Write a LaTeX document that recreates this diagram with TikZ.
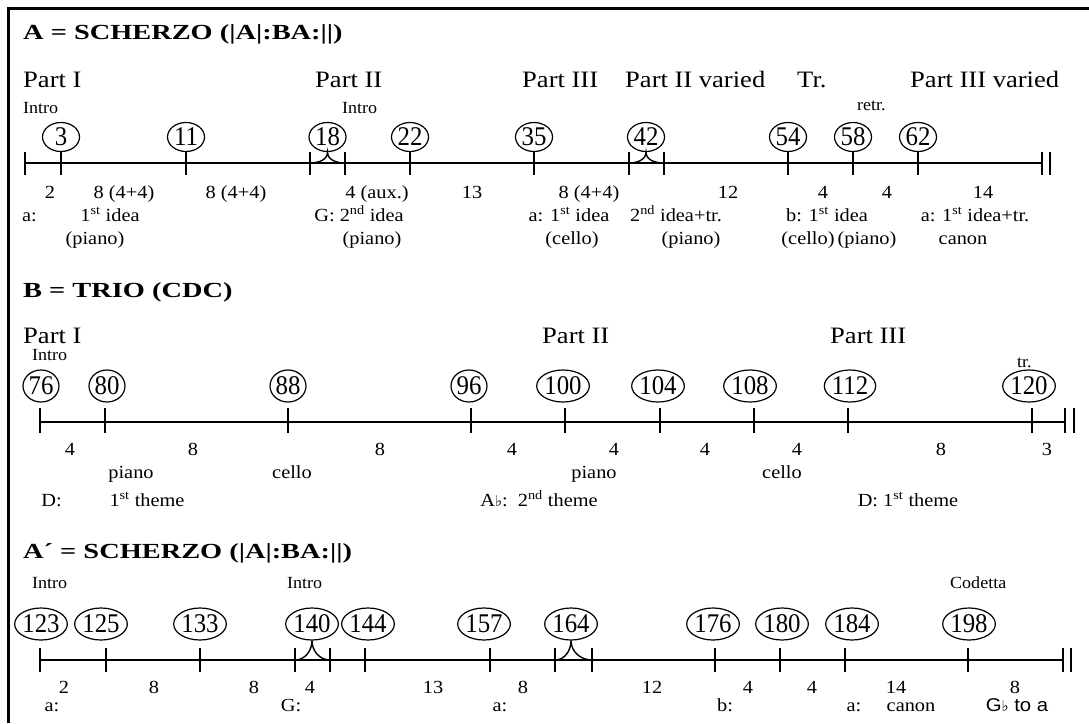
\documentclass[tikz,border=0pt]{standalone}
\usepackage{fontspec}
\setmainfont{Liberation Serif}[FakeStretch=1.1]
\newfontfamily\titlef{Liberation Serif}[FakeStretch=1.32]
\newfontfamily\partf{Liberation Serif}[FakeStretch=1.13]
\newfontfamily\circf{Liberation Serif}[FakeStretch=0.92]
\newfontfamily\smallf{Liberation Serif}[FakeStretch=1.06]
\newfontfamily\sansf{Liberation Sans}[FakeStretch=1.1]
\newfontfamily\symf{DejaVu Sans}
\usetikzlibrary{shapes.geometric}
\newcommand\fTitle{\titlef\fontsize{21.5}{26}\selectfont\bfseries}
\newcommand\fPart{\partf\fontsize{23.5}{27}\selectfont}
\newcommand\fNum{\fontsize{18.5}{21}\selectfont}
\newcommand\fSmall{\smallf\fontsize{17}{20}\selectfont}
\newcommand\fCirc{\circf\fontsize{27}{30}\selectfont}
\newcommand\supx[1]{\textsuperscript{#1}}
\newcommand\flatsign{{\symf\fontsize{15}{15}\selectfont ♭}}
\begin{document}
\begin{tikzpicture}[x=1pt,y=-1pt,
  txt/.style={inner sep=0pt, anchor=base, font=\fNum},
  txtw/.style={inner sep=0pt, anchor=base west},
  ttl/.style={txtw, font=\fTitle},
  part/.style={txtw, font=\fPart},
  small/.style={txtw, font=\fSmall},
  mnum/.style={ellipse, draw, line width=1.2pt, inner xsep=0pt, inner ysep=0pt, font=\fCirc, minimum width=36pt, minimum height=32pt},
  mnumA/.style={mnum, minimum width=37pt, minimum height=29pt},
  tl/.style={line width=1.4pt},
  tk/.style={line width=1.8pt},
  frame/.style={line width=2.6pt}
]
\useasboundingbox (0,0) rectangle (1089,723);
\draw[frame] (8.7,723) -- (8.7,8.7) -- (1089,8.7);

% ================= A = SCHERZO =================
\node[ttl] (tA) at (23,39) {A = SCHERZO (|A|:BA:||)};
\node[part] (pA1) at (23,87) {Part I};
\node[part] (pA2) at (315,87) {Part II};
\node[part] (pA3) at (522,87) {Part III};
\node[part] (pA4) at (625,87) {Part II varied};
\node[part] (pA5) at (797,87) {Tr.};
\node[part] (pA6) at (910,87) {Part III varied};
\node[small] (sA1) at (23,113) {Intro};
\node[small] (sA2) at (342,113) {Intro};
\node[small] (sA3) at (857,110) {retr.};

\node[mnumA] (a3) at (61,137) {3};
\node[mnumA] (a11) at (186,137) {11};
\node[mnumA] (a18) at (327.5,137) {18};
\node[mnumA] (a22) at (410,137) {22};
\node[mnumA] (a35) at (534,137) {35};
\node[mnumA] (a42) at (646,137) {42};
\node[mnumA] (a54) at (788,137) {54};
\node[mnumA] (a58) at (853,137) {58};
\node[mnumA] (a62) at (918,137) {62};

\draw[tl] (25,163) -- (1042,163);
\foreach \x in {25,61,186,310,345,410,534,629,664,788,853,918,1042,1050}
  \draw[tk] (\x,152) -- (\x,175);
\coordinate (a18l) at (310,163);
\coordinate (a18r) at (345,163);
\coordinate (a42l) at (629,163);
\coordinate (a42r) at (664,163);
\draw[tl] (a18l) to[out=0,in=-90] (a18.south) to[out=-90,in=180] (a18r);
\draw[tl] (a42l) to[out=0,in=-90] (a42.south) to[out=-90,in=180] (a42r);

\node[txt] (nA1) at (50,198) {2};
\node[txt] (nA2) at (124,198) {8 (4+4)};
\node[txt] (nA3) at (236,198) {8 (4+4)};
\node[txt] (nA4) at (377,198) {4 (aux.)};
\node[txt] (nA5) at (472,198) {13};
\node[txt] (nA6) at (589,198) {8 (4+4)};
\node[txt] (nA7) at (728,198) {12};
\node[txt] (nA8) at (823,198) {4};
\node[txt] (nA9) at (887,198) {4};
\node[txt] (nA10) at (983,198) {14};

\node[txt] (kA1) at (29.5,221) {a:};
\node[txt] (kA2) at (110,221) {1\supx{st} idea};
\node[txt] (kA3) at (359,221) {G: 2\supx{nd} idea};
\node[txt] (kA4) at (569,221) {a: 1\supx{st} idea};
\node[txt] (kA5) at (676,221) {2\supx{nd} idea+tr.};
\node[txt] (kA6) at (827,221) {b: 1\supx{st} idea};
\node[txt] (kA7) at (975,221) {a: 1\supx{st} idea+tr.};

\node[txt] (iA1) at (95,244) {(piano)};
\node[txt] (iA2) at (372,244) {(piano)};
\node[txt] (iA3) at (572,244) {(cello)};
\node[txt] (iA4) at (691,244) {(piano)};
\node[txt] (iA5) at (808,244) {(cello)};
\node[txt] (iA6) at (867,244) {(piano)};
\node[txt] (iA7) at (963,244) {canon};

% ================= B = TRIO =================
\node[ttl] (tB) at (23,297) {B = TRIO (CDC)};
\node[part] (pB1) at (23,343) {Part I};
\node[part] (pB2) at (542,343) {Part II};
\node[part] (pB3) at (830,343) {Part III};
\node[small] (sB1) at (32,360) {Intro};
\node[small] (sB2) at (1017,367) {tr.};

\node[mnum] (b76) at (41,386) {76};
\node[mnum] (b80) at (107,386) {80};
\node[mnum] (b88) at (288,386) {88};
\node[mnum] (b96) at (469,386) {96};
\node[mnum] (b100) at (563,386) {100};
\node[mnum] (b104) at (658,386) {104};
\node[mnum] (b108) at (750,386) {108};
\node[mnum] (b112) at (850,386) {112};
\node[mnum] (b120) at (1029,386) {120};

\draw[tl] (40,422) -- (1065,422);
\foreach \x in {40,105,288,471,565,660,754,848,1032,1065,1074}
  \draw[tk] (\x,408) -- (\x,433);

\node[txt] (nB1) at (70,455) {4};
\node[txt] (nB2) at (193,455) {8};
\node[txt] (nB3) at (380,455) {8};
\node[txt] (nB4) at (512,455) {4};
\node[txt] (nB5) at (614,455) {4};
\node[txt] (nB6) at (705,455) {4};
\node[txt] (nB7) at (797,455) {4};
\node[txt] (nB8) at (941,455) {8};
\node[txt] (nB9) at (1047,455) {3};

\node[txt] (iB1) at (131,478) {piano};
\node[txt] (iB2) at (292,478) {cello};
\node[txt] (iB3) at (594,478) {piano};
\node[txt] (iB4) at (782,478) {cello};

\node[txt] (kB1) at (51.5,506) {D:};
\node[txt] (kB2) at (147,506) {1\supx{st} theme};
\node[txt] (kB3) at (539,506) {A\flatsign:\ \ 2\supx{nd} theme};
\node[txt] (kB4) at (908,506) {D: 1\supx{st} theme};

% ================= A' = SCHERZO =================
\node[ttl] (tC) at (23,558) {A´ = SCHERZO (|A|:BA:||)};
\node[small] (sC1) at (32,588) {Intro};
\node[small] (sC2) at (287,588) {Intro};
\node[small] (sC3) at (950,588) {Codetta};

\node[mnum] (c123) at (41,624) {123};
\node[mnum] (c125) at (101,624) {125};
\node[mnum] (c133) at (200,624) {133};
\node[mnum] (c140) at (312,624) {140};
\node[mnum] (c144) at (368,624) {144};
\node[mnum] (c157) at (484,624) {157};
\node[mnum] (c164) at (571,624) {164};
\node[mnum] (c176) at (713,624) {176};
\node[mnum] (c180) at (782,624) {180};
\node[mnum] (c184) at (852,624) {184};
\node[mnum] (c198) at (969,624) {198};

\draw[tl] (40,660) -- (1063,660);
\foreach \x in {40,106,200,295,330,365,490,555,592,715,780,845,968,1063,1071}
  \draw[tk] (\x,648) -- (\x,672);
\coordinate (c140l) at (295,660);
\coordinate (c140r) at (330,660);
\coordinate (c164l) at (555,660);
\coordinate (c164r) at (592,660);
\draw[tl] (c140l) to[out=0,in=-90] (c140.south) to[out=-90,in=180] (c140r);
\draw[tl] (c164l) to[out=0,in=-90] (c164.south) to[out=-90,in=180] (c164r);

\node[txt] (nC1) at (64,693) {2};
\node[txt] (nC2) at (154,693) {8};
\node[txt] (nC3) at (254,693) {8};
\node[txt] (nC4) at (310,693) {4};
\node[txt] (nC5) at (433,693) {13};
\node[txt] (nC6) at (523,693) {8};
\node[txt] (nC7) at (652,693) {12};
\node[txt] (nC8) at (748,693) {4};
\node[txt] (nC9) at (812,693) {4};
\node[txt] (nC10) at (896,693) {14};
\node[txt] (nC11) at (1015,693) {8};

\node[txt] (kC1) at (52,711) {a:};
\node[txt] (kC2) at (291,711) {G:};
\node[txt] (kC3) at (500,711) {a:};
\node[txt] (kC4) at (725,711) {b:};
\node[txt] (kC5) at (854,711) {a:};
\node[txt] (kC6) at (911,711) {canon};
\node[txt] (kC7) at (1017,711) {{\sansf G}\flatsign{\sansf\ to a}};
\end{tikzpicture}
\end{document}
